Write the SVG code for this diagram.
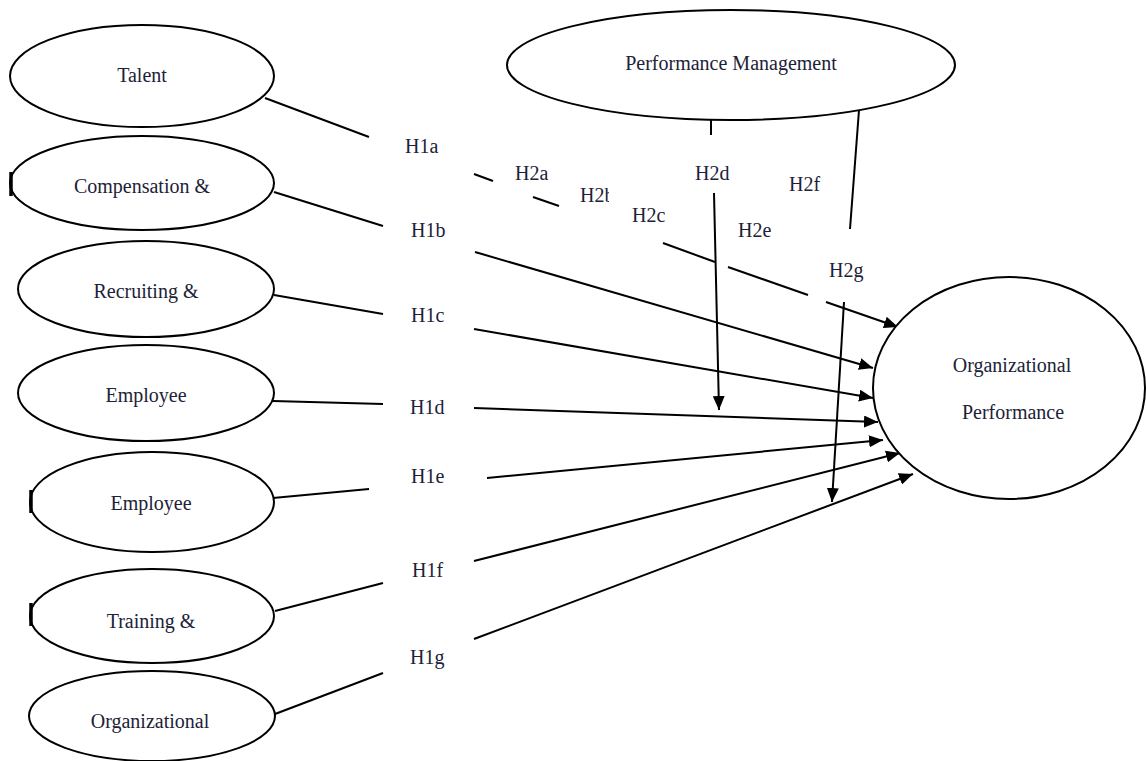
<svg xmlns="http://www.w3.org/2000/svg" width="1146" height="761" viewBox="0 0 1146 761">
<style>
.n{fill:#fff;stroke:#000;stroke-width:2}
.t{font-family:"Liberation Serif","Times New Roman",serif;font-size:20px;fill:#1c2238}
.c{stroke:#000;stroke-width:2;fill:none}
.m{stroke:#000;stroke-width:3.5}
</style>
<defs>
<marker id="ah" viewBox="0 0 14 12" refX="14" refY="6" markerWidth="14" markerHeight="12" orient="auto" markerUnits="userSpaceOnUse"><path d="M0,0 L14,6 L0,12 z" fill="#000"/></marker>
<clipPath id="cb"><rect x="570" y="180" width="39" height="30"/></clipPath>
</defs>
<rect width="1146" height="761" fill="#fff"/>
<g id="connectors">
<line class="c" x1="265" y1="98" x2="369" y2="137"/>
<line class="c" x1="274" y1="192" x2="383" y2="226"/>
<line class="c" x1="274" y1="295" x2="383" y2="314"/>
<line class="c" x1="273" y1="401" x2="383" y2="404"/>
<line class="c" x1="273" y1="498" x2="369" y2="489"/>
<line class="c" x1="275" y1="611" x2="383" y2="583"/>
<line class="c" x1="275" y1="714" x2="383" y2="673"/>
<line class="c" x1="474" y1="174" x2="493" y2="181"/>
<line class="c" x1="533" y1="197" x2="559" y2="206"/>
<line class="c" x1="663" y1="243" x2="715" y2="262"/>
<line class="c" x1="728" y1="267" x2="808" y2="295"/>
<line class="c" x1="826" y1="302" x2="898" y2="327" marker-end="url(#ah)"/>
<line class="c" x1="475" y1="252" x2="873" y2="368" marker-end="url(#ah)"/>
<line class="c" x1="474" y1="329" x2="873" y2="398" marker-end="url(#ah)"/>
<line class="c" x1="474" y1="408" x2="878" y2="422" marker-end="url(#ah)"/>
<line class="c" x1="487" y1="478" x2="883" y2="440" marker-end="url(#ah)"/>
<line class="c" x1="474" y1="561" x2="900" y2="453" marker-end="url(#ah)"/>
<line class="c" x1="474" y1="639" x2="913" y2="474" marker-end="url(#ah)"/>
<line class="c" x1="711" y1="120" x2="711" y2="135"/>
<line class="c" x1="714" y1="193" x2="719" y2="410" marker-end="url(#ah)"/>
<line class="c" x1="859" y1="110" x2="850" y2="229"/>
<line class="c" x1="844" y1="302" x2="832" y2="502" marker-end="url(#ah)"/>
</g>
<g id="talent">
<ellipse class="n" cx="142" cy="76" rx="132" ry="51"/>
<text class="t" x="142" y="82" text-anchor="middle">Talent</text>
</g>
<g id="compensation">
<ellipse class="n" cx="142" cy="183" rx="132" ry="47"/>
<line class="m" x1="11" y1="172" x2="11" y2="196"/>
<text class="t" x="142" y="193" text-anchor="middle">Compensation &amp;</text>
</g>
<g id="recruiting">
<ellipse class="n" cx="146" cy="289" rx="128" ry="48"/>
<text class="t" x="146" y="298" text-anchor="middle">Recruiting &amp;</text>
</g>
<g id="employee1">
<ellipse class="n" cx="146" cy="393" rx="128" ry="48"/>
<text class="t" x="146" y="402" text-anchor="middle">Employee</text>
</g>
<g id="employee2">
<ellipse class="n" cx="152" cy="502" rx="122" ry="50"/>
<line class="m" x1="31" y1="490" x2="31" y2="513"/>
<text class="t" x="151" y="510" text-anchor="middle">Employee</text>
</g>
<g id="training">
<ellipse class="n" cx="152" cy="616" rx="122" ry="47"/>
<line class="m" x1="31" y1="603" x2="31" y2="626"/>
<text class="t" x="151" y="628" text-anchor="middle">Training &amp;</text>
</g>
<g id="organizational">
<ellipse class="n" cx="152" cy="716" rx="123" ry="45"/>
<text class="t" x="150" y="728" text-anchor="middle">Organizational</text>
</g>
<g id="performance-management">
<ellipse class="n" cx="731" cy="65" rx="224" ry="55"/>
<text class="t" x="731" y="70" text-anchor="middle">Performance Management</text>
</g>
<g id="organizational-performance">
<ellipse class="n" cx="1009" cy="388" rx="136" ry="111"/>
<text class="t" x="1012" y="372" text-anchor="middle">Organizational</text>
<text class="t" x="1013" y="419" text-anchor="middle">Performance</text>
</g>
<g id="labels">
<text class="t" x="405" y="153">H1a</text>
<text class="t" x="411" y="237">H1b</text>
<text class="t" x="411" y="322">H1c</text>
<text class="t" x="410" y="414">H1d</text>
<text class="t" x="411" y="483">H1e</text>
<text class="t" x="412" y="577">H1f</text>
<text class="t" x="410" y="664">H1g</text>
<text class="t" x="515" y="180">H2a</text>
<text class="t" x="580" y="202" clip-path="url(#cb)">H2b</text>
<text class="t" x="632" y="222">H2c</text>
<text class="t" x="695" y="180">H2d</text>
<text class="t" x="738" y="237">H2e</text>
<text class="t" x="789" y="191">H2f</text>
<text class="t" x="829" y="277">H2g</text>
</g>
</svg>
